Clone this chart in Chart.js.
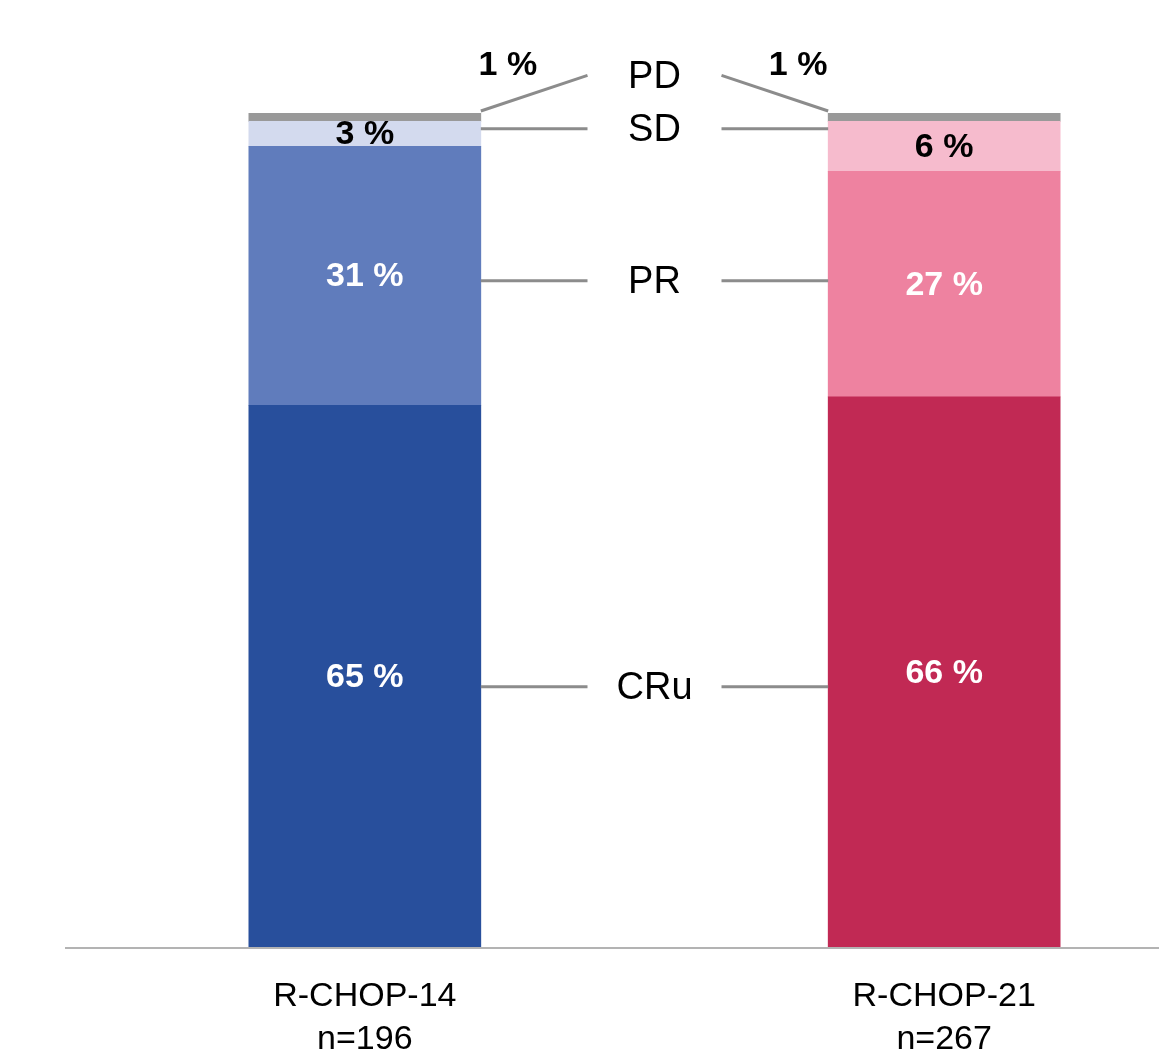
<!DOCTYPE html>
<html>
<head>
<meta charset="utf-8">
<script src="https://cdn.jsdelivr.net/npm/chart.js@4"></script>
<style>
  html, body { margin: 0; padding: 0; background: #fff; }
  #wrap { width: 1159px; height: 1052px; position: relative; }
</style>
</head>
<body>
<div id="wrap"><canvas id="responseChart"></canvas></div>
<script>
// Arms (middle slot left empty for the response labels)
const arms = ['R-CHOP-14', '', 'R-CHOP-21'];
const armSizes = ['n=196', '', 'n=267'];

// Response categories, bottom to top
const responses = ['CRu', 'PR', 'SD', 'PD'];
const rchop14 = [65, 31, 3, 1];
const rchop21 = [66, 27, 6, 1];

const blues = ['#284F9C', '#607CBC', '#D3DAEE', '#999999'];
const reds = ['#C12954', '#EE82A0', '#F6BBCD', '#999999'];
const textColors = ['#ffffff', '#ffffff', '#000000', '#000000'];

const FONT = '"Liberation Sans", Arial, Helvetica, sans-serif';

// Percent labels on each segment
const segmentLabels = {
  id: 'segmentLabels',
  afterDatasetsDraw(chart) {
    const ctx = chart.ctx;
    ctx.save();
    ctx.textAlign = 'center';
    ctx.textBaseline = 'middle';
    ctx.font = 'bold 34px ' + FONT;
    chart.data.datasets.forEach((ds, di) => {
      const meta = chart.getDatasetMeta(di);
      meta.data.forEach((bar, i) => {
        const v = ds.data[i];
        if (v == null) return;
        let x = bar.x;
        let y = (bar.y + bar.base) / 2 + 1;
        if (responses[di] === 'PD') {
          // tiny top slice: label sits above, toward the middle
          x = i === 0 ? bar.x + bar.width / 2 + 27 : bar.x - bar.width / 2 - 30;
          y = bar.y - 47;
        }
        ctx.fillStyle = ds.labelColor;
        ctx.fillText(v + ' %', x, y);
      });
    });
    ctx.restore();
  }
};

// Response names between the bars with leader lines
const responseKey = {
  id: 'responseKey',
  afterDraw(chart, args, opts) {
    const ctx = chart.ctx;
    const xs = chart.scales.x, ys = chart.scales.y;
    const cx = xs.getPixelForValue(1);
    const gap = 67;
    ctx.save();
    ctx.strokeStyle = '#8C8C8C';
    ctx.lineWidth = 3;
    ctx.fillStyle = '#000';
    ctx.font = '38px ' + FONT;
    ctx.textAlign = 'center';
    ctx.textBaseline = 'middle';
    responses.forEach((name, di) => {
      const meta = chart.getDatasetMeta(di);
      const y = ys.getPixelForValue(opts.levels[name]);
      const left = meta.data[0], right = meta.data[2];
      const leftEdge = left.x + left.width / 2;
      const rightEdge = right.x - right.width / 2;
      const yL = name === 'PD' ? left.y - 2 : y;
      const yR = name === 'PD' ? right.y - 2 : y;
      ctx.beginPath();
      ctx.moveTo(leftEdge, yL);
      ctx.lineTo(cx - gap, y);
      ctx.moveTo(cx + gap, y);
      ctx.lineTo(rightEdge, yR);
      ctx.stroke();
      ctx.fillText(name, cx, y + 2);
    });
    ctx.restore();
  }
};

// Baseline running across the full width
const baseline = {
  id: 'baseline',
  afterDatasetsDraw(chart) {
    const ctx = chart.ctx;
    const y = chart.scales.y.getPixelForValue(0);
    ctx.save();
    ctx.strokeStyle = '#B3B3B3';
    ctx.lineWidth = 2;
    ctx.beginPath();
    ctx.moveTo(65, y);
    ctx.lineTo(chart.width, y);
    ctx.stroke();
    ctx.restore();
  }
};

const datasets = responses.map((name, i) => ({
  label: name,
  data: [rchop14[i], null, rchop21[i]],
  backgroundColor: [blues[i], 'rgba(0,0,0,0)', reds[i]],
  borderWidth: 0,
  barThickness: 232,
  labelColor: textColors[i]
}));

const ctx = document.getElementById('responseChart').getContext('2d');
const responseChart = new Chart(ctx, {
  type: 'bar',
  data: {
    labels: arms.map((a, i) => a ? [a, armSizes[i]] : ''),
    datasets: datasets
  },
  options: {
    responsive: true,
    maintainAspectRatio: false,
    animation: false,
    layout: { padding: { top: 113, left: 220, right: 70, bottom: 0 } },
    plugins: {
      legend: { display: false },
      tooltip: { enabled: false },
      responseKey: {
        levels: { CRu: 31.3, PR: 79.9, SD: 98.1, PD: 104.5 }
      }
    },
    scales: {
      x: {
        stacked: true,
        grid: { display: false },
        border: { display: false },
        ticks: {
          color: '#000',
          padding: 20,
          font: { family: FONT, size: 34, lineHeight: 1.24 },
          maxRotation: 0,
          autoSkip: false
        },
        afterFit(scale) { scale.height = 104; }
      },
      y: {
        stacked: true,
        display: false,
        min: 0,
        max: 100
      }
    }
  },
  plugins: [segmentLabels, responseKey, baseline]
});
</script>
</body>
</html>
